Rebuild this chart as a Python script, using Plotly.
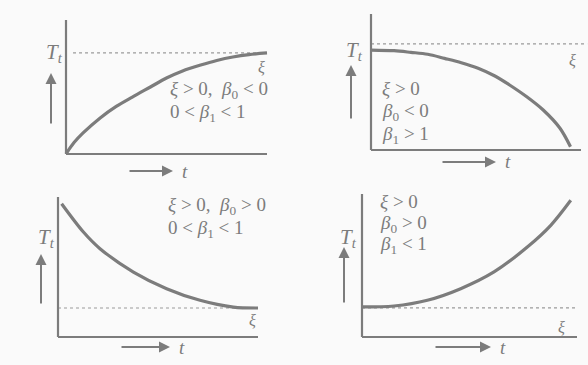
import plotly.graph_objects as go

W, H = 588, 365
GRAY = "#7c7c7c"
FONT = "Liberation Serif"

# curve points (t, T_t) in axis units, both axes 0..10
t1 = [0, 0.4, 0.85, 1.7, 2.5, 3.3, 4.2, 5.0, 5.8, 6.7, 7.5, 8.3, 9.1, 10]
T1 = [0, 0.85, 1.57, 2.69, 3.55, 4.25, 5.0, 5.67, 6.2, 6.64, 6.98, 7.24, 7.42, 7.54]
xi1 = 7.54

t2 = [0, 1.1, 1.9, 2.7, 3.5, 4.3, 5.1, 5.9, 6.6, 7.4, 8.2, 9.0, 9.5]
T2 = [7.35, 7.3, 7.18, 7.04, 6.74, 6.42, 6.01, 5.44, 4.78, 3.93, 2.94, 1.6, 0.24]
xi2 = 7.8

t3 = [0.18, 1.27, 2.1, 3.77, 5.43, 7.1, 8.77, 10]
T3 = [9.52, 7.5, 6.31, 4.64, 3.45, 2.62, 2.14, 2.07]
xi3 = 2.07

t4 = [0, 1.49, 3.04, 4.59, 6.14, 7.69, 8.78, 9.71]
T4 = [2.1, 2.17, 2.57, 3.38, 4.55, 6.29, 7.81, 9.56]
xi4 = 2.03

# panel text
cond1 = ["<i>ξ</i> > 0,  <i>β</i><sub>0</sub> < 0", "0 < <i>β</i><sub>1</sub> < 1"]
cond2 = ["<i>ξ</i> > 0", "<i>β</i><sub>0</sub> < 0", "<i>β</i><sub>1</sub> > 1"]
cond3 = ["<i>ξ</i> > 0,  <i>β</i><sub>0</sub> > 0", "0 < <i>β</i><sub>1</sub> < 1"]
cond4 = ["<i>ξ</i> > 0", "<i>β</i><sub>0</sub> > 0", "<i>β</i><sub>1</sub> < 1"]

panels = [
    dict(t=t1, T=T1, xi=xi1, xi_x=[0.35, 10], o=(66, 154), s=(20.1, 13.4),
         cond=cond1, cond_xy=(168, 90, 23), xi_lbl=(261, 67), Tt=(54, 53),
         up=(51, 125, 73), right=(128, 173, 171)),
    dict(t=t2, T=T2, xi=xi2, xi_x=[0, 10.3], o=(371, 150), s=(21, 13.6),
         cond=cond2, cond_xy=(380, 88, 23.5), xi_lbl=(572, 60), Tt=(355, 51),
         up=(351, 120, 65), right=(441, 496, 162)),
    dict(t=t3, T=T3, xi=xi3, xi_x=[0, 10], o=(58, 337), s=(20, 14),
         cond=cond3, cond_xy=(166, 206, 23), xi_lbl=(252, 320), Tt=(46, 238),
         up=(41, 305, 254), right=(120, 170, 347)),
    dict(t=t4, T=T4, xi=xi4, xi_x=[0, 10], o=(362, 337), s=(21.5, 14.3),
         cond=cond4, cond_xy=(378, 202, 21.5), xi_lbl=(561, 327), Tt=(348, 238),
         up=(344, 304, 247), right=(434, 491, 347)),
]

XR = [-0.3, 10.3]
YR = [-0.3, 10.3]


def px(x):
    return x / W


def py(y):
    return 1 - y / H


def label(x, y, text, size, anchor="center"):
    return dict(x=px(x), y=py(y), xref="paper", yref="paper", text=text,
                showarrow=False, xanchor=anchor, yanchor="middle",
                font=dict(family=FONT, size=size, color=GRAY))


fig = go.Figure()
shapes, annotations = [], []
layout_axes = {}

for i, p in enumerate(panels, start=1):
    ox, oy = p["o"]
    sx, sy = p["s"]
    xdom = [px(ox + XR[0] * sx), min(1.0, px(ox + XR[1] * sx))]
    ydom = [py(oy - YR[0] * sy), py(oy - YR[1] * sy)]
    sfx = "" if i == 1 else str(i)
    xr = [XR[0], (xdom[1] * W - ox) / sx]
    layout_axes["xaxis" + sfx] = dict(domain=xdom, range=xr, visible=False,
                                      anchor="y" + sfx, fixedrange=True)
    layout_axes["yaxis" + sfx] = dict(domain=ydom, range=YR, visible=False,
                                      anchor="x" + sfx, fixedrange=True)
    xa, ya = "x" + sfx, "y" + sfx

    # asymptote level xi
    fig.add_trace(go.Scatter(x=p["xi_x"], y=[p["xi"], p["xi"]], mode="lines",
                             line=dict(color="#9a9a9a", width=1.2, dash="dot"),
                             xaxis=xa, yaxis=ya, hoverinfo="skip"))
    # T_t curve
    fig.add_trace(go.Scatter(x=p["t"], y=p["T"], mode="lines",
                             line=dict(color=GRAY, width=3.2, shape="spline",
                                       smoothing=0.9),
                             xaxis=xa, yaxis=ya))

    # axes
    shapes.append(dict(type="line", xref=xa, yref=ya, x0=0, x1=0, y0=0, y1=10,
                       line=dict(color=GRAY, width=2.2)))
    shapes.append(dict(type="line", xref=xa, yref=ya, x0=0, x1=10, y0=0, y1=0,
                       line=dict(color=GRAY, width=2.2)))

    cx, cy, step = p["cond_xy"]
    for k, line in enumerate(p["cond"]):
        annotations.append(label(cx, cy + k * step, line, 19, anchor="left"))
    annotations.append(label(*p["xi_lbl"], "<i>ξ</i>", 16))
    annotations.append(label(*p["Tt"], "<i>T<sub>t</sub></i>", 21))

    # up arrow beside T_t
    ux, uy0, uy1 = p["up"]
    annotations.append(dict(x=px(ux), y=py(uy1), xref="paper", yref="paper",
                            ax=0, ay=uy0 - uy1, text="", showarrow=True,
                            arrowhead=2, arrowsize=1.1, arrowwidth=2,
                            arrowcolor=GRAY))
    # right arrow with t
    rx0, rx1, ry = p["right"]
    annotations.append(dict(x=px(rx1), y=py(ry), xref="paper", yref="paper",
                            ax=-(rx1 - rx0), ay=0, text="", showarrow=True,
                            arrowhead=2, arrowsize=1.1, arrowwidth=2,
                            arrowcolor=GRAY))
    annotations.append(label(rx1 + 12, ry, "<i>t</i>", 19))

fig.update_layout(
    width=W, height=H,
    margin=dict(l=0, r=0, t=0, b=0),
    paper_bgcolor="#fafafa",
    plot_bgcolor="rgba(0,0,0,0)",
    showlegend=False,
    shapes=shapes,
    annotations=annotations,
    **layout_axes,
)

# page body has a default margin; drop it so the figure fills the window
fig.write_html("out.html", config={"displayModeBar": False},
               post_script="document.body.style.margin='0';"
                           "document.body.style.overflow='hidden';")
